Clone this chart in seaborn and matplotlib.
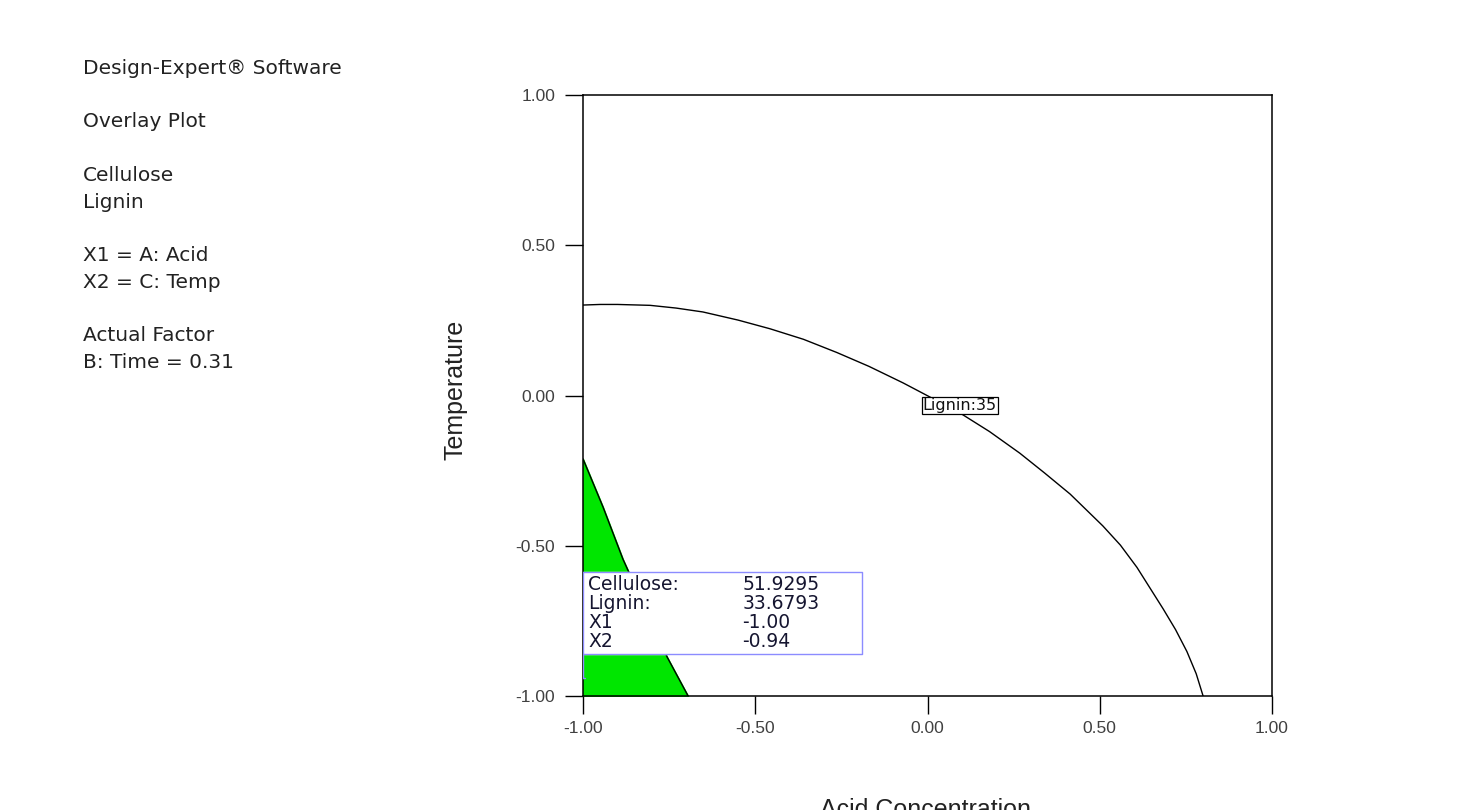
import numpy as np
import matplotlib
matplotlib.use("Agg")
import matplotlib.pyplot as plt
import seaborn as sns

# Lignin = 35 contour (coded units)
lignin_x = [-1.00, -0.95, -0.90, -0.805, -0.73, -0.652, -0.55, -0.457, -0.36, -0.263, -0.17,
            -0.071, 0.007, 0.094, 0.18, 0.268, 0.34, 0.414, 0.509, 0.56, 0.608, 0.684,
            0.72, 0.753, 0.78, 0.800]
lignin_y = [0.301, 0.303, 0.303, 0.300, 0.291, 0.278, 0.251, 0.222, 0.187, 0.143, 0.097,
            0.042, -0.005, -0.058, -0.120, -0.192, -0.258, -0.328, -0.434, -0.498, -0.572, -0.710,
            -0.779, -0.852, -0.926, -1.000]

# green feasible region boundary (Cellulose)
green_y = [-0.211, -0.371, -0.545, -0.870, -1.000]
green_x = [-1.000, -0.942, -0.884, -0.756, -0.695]

flag_names = ["Cellulose:", "Lignin:", "X1", "X2"]
flag_values = ["51.9295", "33.6793", "-1.00", "-0.94"]
flag_point = (-1.00, -0.94)

ticks = [-1.0, -0.5, 0.0, 0.5, 1.0]
tick_labels = ["-1.00", "-0.50", "0.00", "0.50", "1.00"]

info_lines = ["Design-Expert\u00ae Software", "", "Overlay Plot", "", "Cellulose", "Lignin", "",
              "X1 = A: Acid", "X2 = C: Temp", "", "Actual Factor", "B: Time = 0.31"]

sns.set_style("white")
plt.rcParams['font.family'] = ['Liberation Sans', 'DejaVu Sans']

fig = plt.figure(figsize=(14.63, 8.10), dpi=100)
ax = fig.add_axes([583/1463, 1-696/810, (1272-583)/1463, (696-95)/810])

# green region
ax.fill_betweenx(green_y, -1.0, green_x, color="#00e600", zorder=1)
sns.lineplot(x=green_x, y=green_y, sort=False, estimator=None, color="black", lw=1.0, ax=ax, zorder=2)

# contour line
sns.lineplot(x=lignin_x, y=lignin_y, sort=False, estimator=None, color="black", lw=1.0, ax=ax, zorder=2)
ax.text(0.094, -0.033, "Lignin:35", fontsize=11.5, ha="center", va="center", color="#111111", zorder=4,
        family="DejaVu Sans",
        bbox=dict(boxstyle="square,pad=0.05", fc="white", ec="black", lw=0.9))

# flag box
bx0, bx1, by0, by1 = -1.0, -0.19, -0.860, -0.587
ax.fill([bx0, bx1, bx1, bx0], [by0, by0, by1, by1], color="white", zorder=5)
ax.plot([bx0, bx1, bx1, bx0, bx0], [by0, by0, by1, by1, by0], color="#8c8cff", lw=1.0, zorder=6)
ax.plot([bx0, bx0], [by0, flag_point[1]], color="#8c8cff", lw=1.0, zorder=6)
ax.plot([flag_point[0] - 0.01, flag_point[0] + 0.005], [flag_point[1]] * 2, color="#8c8cff", lw=1.0, zorder=6)
for i, (n, v) in enumerate(zip(flag_names, flag_values)):
    yy = -0.628 - i * 0.064
    ax.text(-0.985, yy, n, fontsize=13.5, color="#151530", va="center", ha="left", zorder=7,
            family="DejaVu Sans")
    ax.text(-0.537, yy, v, fontsize=13.5, color="#151530", va="center", ha="left", zorder=7,
            family="DejaVu Sans")

ax.set_xlim(-1, 1)
ax.set_ylim(-1, 1)
ax.set_xticks(ticks)
ax.set_xticklabels(tick_labels)
ax.set_yticks(ticks)
ax.set_yticklabels(tick_labels)
ax.tick_params(direction="out", length=13, width=1.0, color="black", labelsize=12.5,
               labelcolor="#404040", left=True, bottom=True)
ax.tick_params(axis="y", pad=7)
ax.tick_params(axis="x", pad=5)
for s in ax.spines.values():
    s.set_visible(True)
    s.set_color("black")
    s.set_linewidth(1.1)

fig.text(455/1463, 1-390/810, "Temperature", rotation=90, fontsize=18, ha="center", va="center", color="#222222")
fig.text(925/1463, 1-798/810, "Acid Concentration", fontsize=18, ha="center", va="top", color="#222222")

# side notes
for i, line in enumerate(info_lines):
    if line:
        fig.text(83/1463, 1-(68 + i*26.8)/810, line, fontsize=14.5, ha="left", va="center", color="#222222",
                 family="DejaVu Sans")

fig.savefig("out.png", dpi=100)
